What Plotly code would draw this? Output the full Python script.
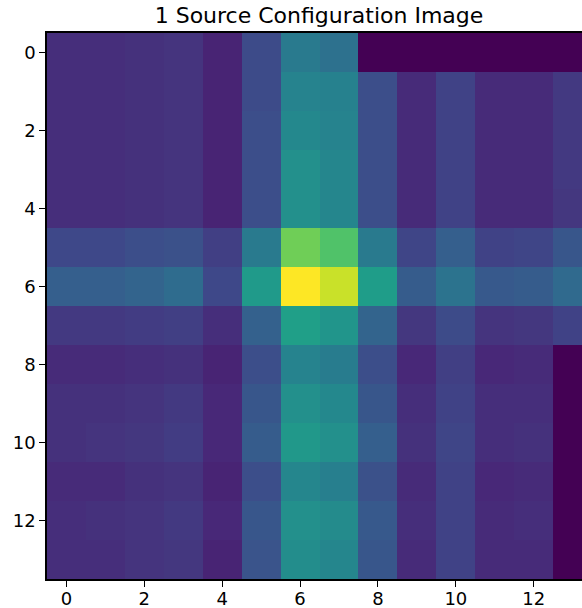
import plotly.graph_objects as go

title = "1 Source Configuration Image"
cols = list(range(14))
rows = list(range(14))
tick_vals = [0, 2, 4, 6, 8, 10, 12]

row00 = [0.13, 0.13, 0.14, 0.15, 0.10, 0.23, 0.41, 0.37, 0.00, 0.00, 0.00, 0.00, 0.00, 0.00]
row01 = [0.13, 0.13, 0.14, 0.15, 0.10, 0.23, 0.45, 0.44, 0.24, 0.12, 0.20, 0.12, 0.12, 0.17]
row02 = [0.13, 0.13, 0.14, 0.15, 0.10, 0.24, 0.47, 0.45, 0.24, 0.12, 0.20, 0.12, 0.12, 0.17]
row03 = [0.13, 0.13, 0.14, 0.15, 0.10, 0.24, 0.50, 0.46, 0.24, 0.12, 0.20, 0.12, 0.12, 0.17]
row04 = [0.13, 0.13, 0.14, 0.15, 0.10, 0.24, 0.50, 0.46, 0.24, 0.12, 0.20, 0.12, 0.12, 0.16]
row05 = [0.22, 0.22, 0.24, 0.25, 0.19, 0.41, 0.78, 0.72, 0.41, 0.21, 0.30, 0.20, 0.21, 0.27]
row06 = [0.30, 0.30, 0.32, 0.35, 0.22, 0.54, 1.00, 0.92, 0.55, 0.29, 0.38, 0.28, 0.29, 0.34]
row07 = [0.17, 0.17, 0.18, 0.19, 0.13, 0.31, 0.56, 0.52, 0.32, 0.16, 0.23, 0.15, 0.16, 0.20]
row08 = [0.12, 0.12, 0.13, 0.14, 0.10, 0.24, 0.45, 0.42, 0.24, 0.11, 0.19, 0.11, 0.12, 0.00]
row09 = [0.14, 0.14, 0.15, 0.17, 0.11, 0.27, 0.50, 0.47, 0.27, 0.13, 0.20, 0.13, 0.13, 0.00]
row10 = [0.14, 0.15, 0.16, 0.18, 0.11, 0.29, 0.53, 0.50, 0.30, 0.14, 0.21, 0.13, 0.14, 0.00]
row11 = [0.12, 0.12, 0.14, 0.15, 0.10, 0.24, 0.46, 0.43, 0.25, 0.12, 0.20, 0.11, 0.12, 0.00]
row12 = [0.13, 0.14, 0.15, 0.17, 0.11, 0.27, 0.50, 0.48, 0.28, 0.13, 0.20, 0.12, 0.13, 0.00]
row13 = [0.13, 0.13, 0.15, 0.16, 0.10, 0.26, 0.49, 0.46, 0.27, 0.12, 0.20, 0.12, 0.12, 0.00]

z = [row00, row01, row02, row03, row04, row05, row06,
     row07, row08, row09, row10, row11, row12, row13]

fig = go.Figure(go.Heatmap(
    z=z, x=cols, y=rows,
    colorscale="Viridis", zmin=0, zmax=1,
    showscale=False, hoverinfo="skip",
))

font_fam = "DejaVu Sans"
fig.update_layout(
    width=582, height=608,
    margin=dict(l=47, r=0, t=33, b=29),
    paper_bgcolor="white", plot_bgcolor="white",
    font=dict(family=font_fam, size=18, color="black"),
    title=dict(text=title, x=319 / 582, xref="container", xanchor="center",
               y=1 - 15 / 608, yref="container", yanchor="middle",
               font=dict(family=font_fam, size=22, color="black")),
)
fig.update_xaxes(
    range=[-0.5, 13.24], tickvals=tick_vals, ticks="outside", ticklen=6,
    tickwidth=1.3, tickcolor="black", showline=True, linecolor="black",
    linewidth=1.5, mirror=True, showgrid=False, zeroline=False,
    ticklabelstandoff=-3, automargin=False,
)
fig.update_yaxes(
    range=[13.5, -0.5], tickvals=tick_vals, ticks="outside", ticklen=6,
    tickwidth=1.3, tickcolor="black", showline=True, linecolor="black",
    linewidth=1.5, mirror=False, showgrid=False, zeroline=False,
    automargin=False,
)
fig.write_html("out.html")
